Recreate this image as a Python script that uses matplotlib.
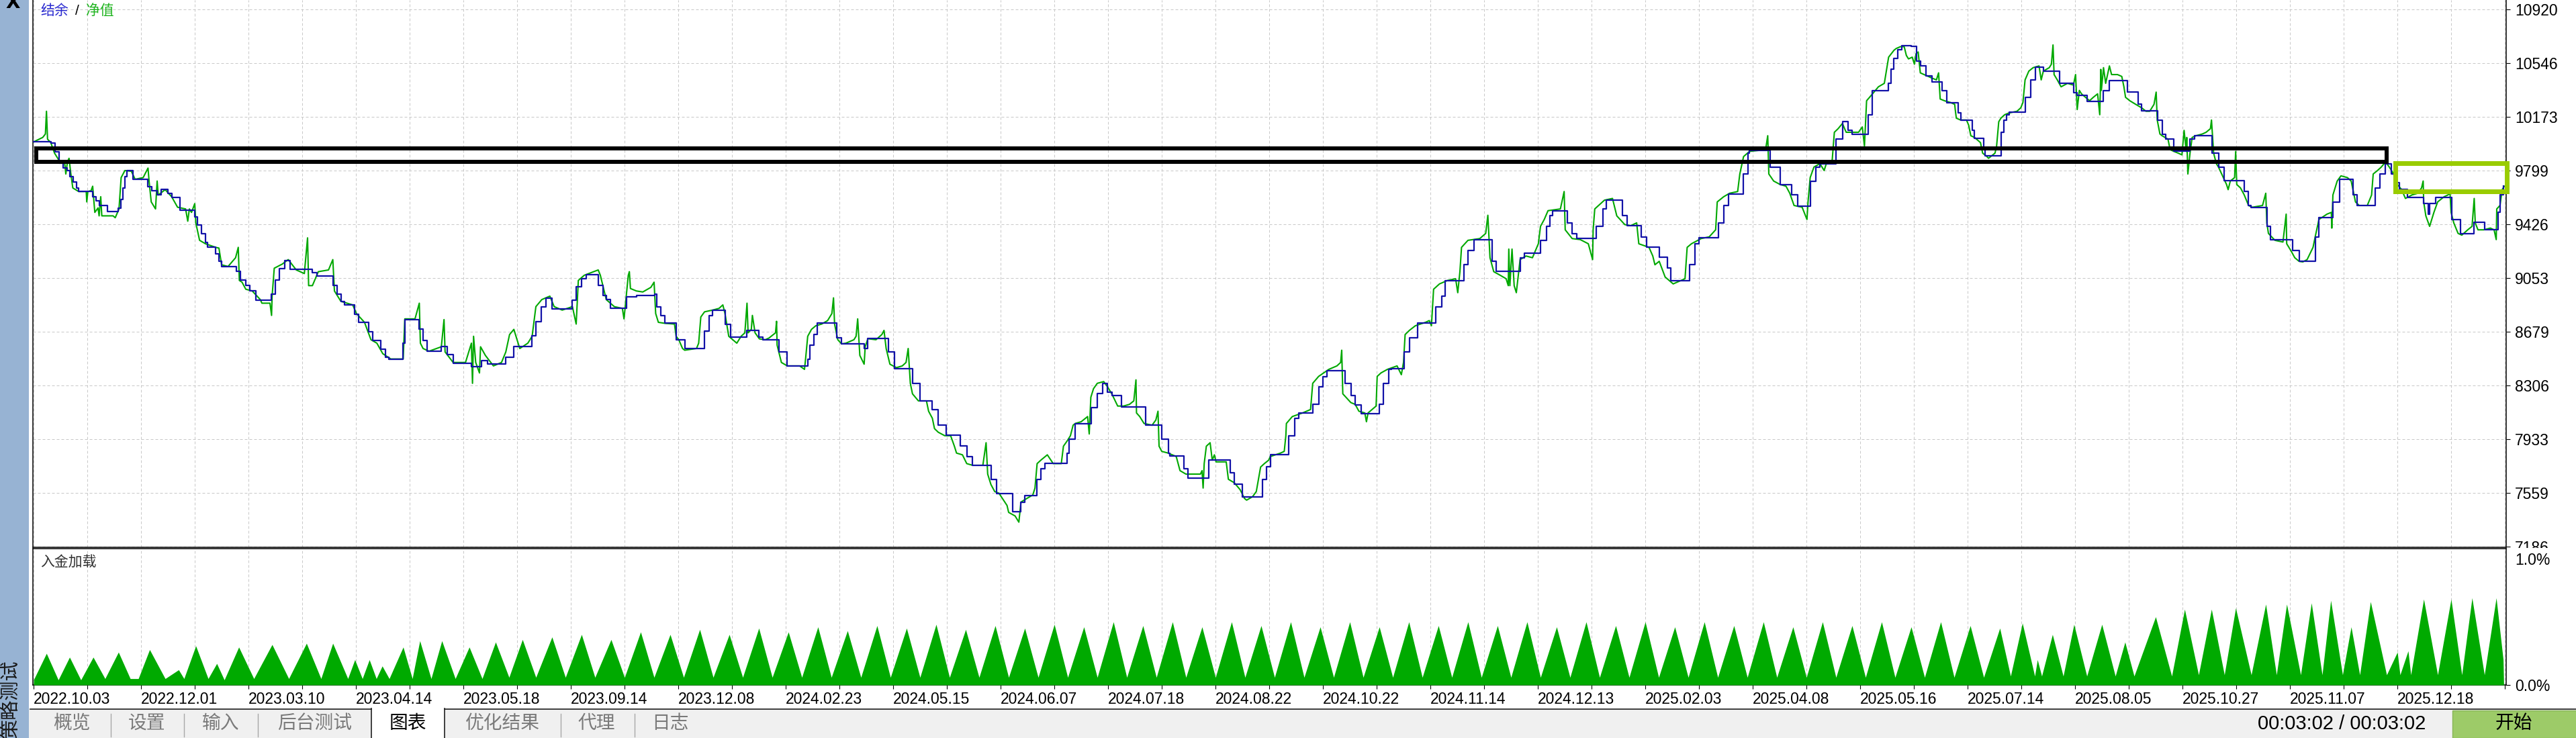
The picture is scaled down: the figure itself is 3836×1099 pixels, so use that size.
import matplotlib
matplotlib.use("Agg")
import matplotlib.pyplot as plt
from matplotlib.patches import Rectangle

plt.rcParams['font.family'] = ['Liberation Sans', 'Noto Sans CJK SC', 'DejaVu Sans']

W, H = 3837, 1099

# x runs in grid columns (one dashed column per unit), a date label every 2nd column
date_labels = ['2022.10.03', '2022.12.01', '2023.03.10', '2023.04.14', '2023.05.18',
               '2023.09.14', '2023.12.08', '2024.02.23', '2024.05.15', '2024.06.07',
               '2024.07.18', '2024.08.22', '2024.10.22', '2024.11.14', '2024.12.13',
               '2025.02.03', '2025.04.08', '2025.05.16', '2025.07.14', '2025.08.05',
               '2025.10.27', '2025.11.07', '2025.12.18']
y_levels = [10920, 10546, 10173, 9799, 9426, 9053, 8679, 8306, 7933, 7559, 7186]

# balance (step line)
balance = [
    (0.00, 9999), (0.32, 9990), (0.40, 9930), (0.47, 9850), (0.55, 9820), (0.62, 9800),
    (0.68, 9760), (0.74, 9720), (0.80, 9680), (0.84, 9654), (1.10, 9620), (1.16, 9590),
    (1.22, 9557), (1.37, 9514), (1.58, 9540), (1.62, 9600), (1.66, 9680), (1.70, 9760),
    (1.74, 9800), (1.85, 9739), (2.12, 9690), (2.20, 9660), (2.30, 9630), (2.38, 9671),
    (2.50, 9640), (2.57, 9611), (2.72, 9526), (3.00, 9480), (3.05, 9420), (3.12, 9360),
    (3.20, 9300), (3.24, 9266), (3.39, 9220), (3.45, 9170), (3.50, 9133), (3.77, 9100),
    (3.85, 9040), (3.95, 9000), (4.03, 8963), (4.14, 8898), (4.43, 8940), (4.50, 9040),
    (4.58, 9120), (4.67, 9174), (4.78, 9114), (5.19, 9090), (5.27, 9068), (5.57, 9000),
    (5.65, 8940), (5.72, 8890), (5.79, 8866), (5.98, 8800), (6.05, 8745), (6.24, 8680),
    (6.31, 8617), (6.46, 8560), (6.55, 8500), (6.61, 8486), (6.88, 8600), (6.91, 8764),
    (7.18, 8700), (7.25, 8620), (7.33, 8546), (7.59, 8575), (7.70, 8520), (7.81, 8461),
    (8.15, 8435), (8.34, 8478), (8.45, 8454), (8.79, 8500), (8.94, 8575), (9.28, 8650),
    (9.35, 8750), (9.45, 8850), (9.54, 8915), (9.65, 8837), (10.03, 8900), (10.10, 8990),
    (10.20, 9050), (10.29, 9077), (10.51, 9000), (10.60, 8930), (10.66, 8903), (10.74, 8842),
    (11.04, 8920), (11.22, 8932), (11.56, 8939), (11.60, 8854), (11.67, 8793), (11.75, 8738),
    (11.96, 8624), (12.12, 8563), (12.49, 8684), (12.57, 8793), (12.64, 8830), (12.87, 8733),
    (12.98, 8641), (13.28, 8689), (13.50, 8641), (13.58, 8624), (13.88, 8539), (14.03, 8442),
    (14.41, 8490), (14.45, 8587), (14.52, 8660), (14.59, 8738), (14.95, 8636), (15.04, 8595),
    (15.46, 8563), (15.53, 8631), (15.91, 8539), (16.02, 8425), (16.36, 8321), (16.50, 8199),
    (16.73, 8139), (16.84, 8030), (16.99, 7962), (17.25, 7884), (17.37, 7812), (17.48, 7751),
    (17.82, 7654), (17.93, 7557), (18.23, 7428), (18.38, 7496), (18.45, 7540), (18.68, 7654),
    (18.75, 7727), (18.83, 7763), (19.24, 7836), (19.28, 7932), (19.39, 8042), (19.69, 8151),
    (19.80, 8248), (19.90, 8321), (19.99, 8260), (20.07, 8236), (20.25, 8156), (20.70, 8030),
    (21.00, 7932), (21.12, 7836), (21.15, 7816), (21.41, 7727), (21.49, 7661), (21.87, 7787),
    (22.27, 7700), (22.35, 7618), (22.50, 7533), (22.88, 7652), (22.95, 7740), (23.02, 7824),
    (23.36, 7957), (23.47, 8078), (23.55, 8115), (23.81, 8175), (23.92, 8297), (24.00, 8369),
    (24.07, 8410), (24.41, 8321), (24.52, 8236), (24.60, 8170), (24.71, 8110), (25.05, 8175),
    (25.12, 8321), (25.23, 8418), (25.27, 8425), (25.51, 8539), (25.61, 8636), (25.76, 8738),
    (26.10, 8854), (26.21, 8927), (26.28, 9036), (26.62, 9145), (26.70, 9242), (26.81, 9320),
    (27.15, 9169), (27.22, 9101), (27.67, 9194), (27.75, 9225), (28.05, 9315), (28.16, 9412),
    (28.23, 9485), (28.27, 9521), (28.55, 9436), (28.64, 9363), (28.72, 9327), (29.09, 9412),
    (29.21, 9533), (29.28, 9594), (29.58, 9485), (29.66, 9417), (29.92, 9339), (30.03, 9266),
    (30.26, 9199), (30.41, 9121), (30.48, 9036), (30.82, 9145), (30.93, 9291), (31.00, 9332),
    (31.36, 9436), (31.46, 9557), (31.55, 9637), (31.83, 9776), (31.91, 9921), (31.94, 9940),
    (32.33, 9824), (32.51, 9703), (32.73, 9630), (32.84, 9553), (33.07, 9727), (33.18, 9824),
    (33.25, 9848), (33.55, 10018), (33.67, 10139), (33.78, 10079), (33.85, 10054), (34.15, 10188),
    (34.23, 10353), (34.52, 10406), (34.57, 10503), (34.63, 10580), (34.70, 10640), (34.78, 10668),
    (34.95, 10661), (35.05, 10560), (35.12, 10527), (35.23, 10459), (35.34, 10418), (35.53, 10357),
    (35.61, 10273), (35.83, 10200), (35.87, 10151), (36.09, 10080), (36.13, 10023), (36.30, 9960),
    (36.32, 9904), (36.62, 10067), (36.68, 10150), (36.73, 10188), (36.77, 10207), (37.07, 10309),
    (37.18, 10430), (37.26, 10520), (37.41, 10491), (37.71, 10406), (37.97, 10340), (38.04, 10321),
    (38.23, 10280), (38.53, 10357), (38.64, 10425), (38.98, 10345), (39.17, 10260), (39.24, 10217),
    (39.54, 10151), (39.62, 10054), (39.69, 10018), (39.84, 9933), (40.14, 10018), (40.22, 10042),
    (40.55, 9921), (40.67, 9824), (40.78, 9732), (41.15, 9654), (41.23, 9557), (41.27, 9543),
    (41.57, 9412), (41.64, 9320), (42.05, 9242), (42.17, 9169), (42.47, 9339), (42.54, 9472),
    (42.80, 9582), (42.92, 9739), (43.18, 9630), (43.25, 9557), (43.59, 9679), (43.67, 9776),
    (43.78, 9848), (43.89, 9776), (43.97, 9715), (44.04, 9667), (44.19, 9611), (44.49, 9570),
    (44.57, 9497), (44.60, 9570), (44.71, 9611), (45.01, 9460), (45.17, 9363), (45.43, 9441),
    (45.62, 9388), (45.88, 9509), (45.91, 9630), (45.97, 9691),
]

# equity
equity = [
    (0.00, 9999), (0.17, 10030), (0.22, 10054), (0.24, 10212), (0.26, 10018), (0.32, 9994),
    (0.39, 9921), (0.47, 9873), (0.58, 9848), (0.60, 9776), (0.63, 9860), (0.66, 9885),
    (0.69, 9788), (0.73, 9679), (0.84, 9654), (0.98, 9654), (0.99, 9582), (1.01, 9654),
    (1.07, 9660), (1.10, 9691), (1.14, 9509), (1.20, 9540), (1.22, 9485), (1.25, 9618),
    (1.27, 9485), (1.48, 9485), (1.52, 9472), (1.59, 9533), (1.63, 9751), (1.70, 9800),
    (1.82, 9795), (1.89, 9739), (2.04, 9751), (2.13, 9817), (2.15, 9727), (2.19, 9582),
    (2.27, 9533), (2.30, 9727), (2.32, 9630), (2.45, 9667), (2.57, 9618), (2.68, 9545),
    (2.83, 9533), (2.87, 9448), (2.90, 9533), (2.94, 9509), (3.00, 9570), (3.02, 9436),
    (3.09, 9315), (3.20, 9291), (3.39, 9266), (3.45, 9261), (3.50, 9145), (3.62, 9133),
    (3.76, 9194), (3.81, 9266), (3.83, 9036), (3.88, 9024), (3.95, 8975), (4.07, 8963),
    (4.22, 8903), (4.25, 8878), (4.40, 8878), (4.43, 8793), (4.44, 8927), (4.48, 9121),
    (4.63, 9150), (4.74, 9181), (4.89, 9109), (5.04, 9084), (5.10, 9332), (5.12, 9000),
    (5.19, 9000), (5.30, 9097), (5.49, 9109), (5.57, 9181), (5.60, 8963), (5.72, 8891),
    (5.94, 8866), (6.01, 8806), (6.16, 8745), (6.28, 8624), (6.39, 8600), (6.50, 8527),
    (6.65, 8490), (6.88, 8490), (6.91, 8769), (7.10, 8769), (7.18, 8878), (7.20, 8600),
    (7.25, 8563), (7.36, 8544), (7.59, 8575), (7.64, 8764), (7.66, 8539), (7.81, 8466),
    (8.04, 8466), (8.15, 8600), (8.17, 8321), (8.19, 8648), (8.23, 8466), (8.30, 8393),
    (8.32, 8575), (8.41, 8515), (8.56, 8442), (8.71, 8466), (8.79, 8539), (8.86, 8660),
    (8.94, 8696), (9.05, 8563), (9.20, 8600), (9.28, 8648), (9.35, 8854), (9.46, 8903),
    (9.61, 8927), (9.69, 8854), (9.84, 8830), (10.03, 8854), (10.10, 8733), (10.14, 9036),
    (10.25, 9072), (10.51, 9109), (10.55, 9072), (10.66, 8903), (10.81, 8854), (10.96, 8842),
    (10.99, 8769), (11.01, 8842), (11.07, 9072), (11.09, 9097), (11.11, 8980), (11.22, 8963),
    (11.34, 8956), (11.49, 8988), (11.55, 9024), (11.58, 8806), (11.63, 8745), (11.75, 8738),
    (11.93, 8733), (11.96, 8648), (12.01, 8624), (12.08, 8563), (12.12, 8551), (12.34, 8563),
    (12.38, 8600), (12.42, 8782), (12.49, 8818), (12.64, 8830), (12.76, 8842), (12.83, 8866),
    (12.87, 8806), (12.94, 8648), (13.09, 8600), (13.17, 8648), (13.24, 8672), (13.28, 8878),
    (13.30, 8672), (13.36, 8696), (13.38, 8793), (13.43, 8672), (13.51, 8630), (13.62, 8624),
    (13.69, 8636), (13.81, 8672), (13.83, 8752), (13.84, 8587), (13.92, 8466), (14.03, 8442),
    (14.26, 8442), (14.35, 8418), (14.37, 8490), (14.41, 8648), (14.48, 8696), (14.56, 8721),
    (14.67, 8733), (14.78, 8757), (14.86, 8806), (14.89, 8915), (14.91, 8733), (14.97, 8624),
    (15.04, 8595), (15.12, 8600), (15.27, 8624), (15.31, 8648), (15.34, 8769), (15.38, 8515),
    (15.46, 8454), (15.48, 8575), (15.53, 8631), (15.68, 8624), (15.79, 8660), (15.83, 8689),
    (15.87, 8563), (15.94, 8454), (16.06, 8430), (16.17, 8442), (16.24, 8466), (16.28, 8563),
    (16.30, 8442), (16.32, 8321), (16.36, 8248), (16.47, 8199), (16.62, 8199), (16.66, 8127),
    (16.73, 8078), (16.77, 8006), (16.84, 7981), (16.96, 7957), (17.07, 7957), (17.14, 7884),
    (17.18, 7836), (17.29, 7824), (17.37, 7763), (17.48, 7751), (17.67, 7751), (17.73, 7908),
    (17.76, 7690), (17.82, 7618), (17.89, 7569), (17.97, 7557), (18.12, 7472), (18.15, 7424),
    (18.27, 7399), (18.34, 7356), (18.38, 7496), (18.49, 7521), (18.60, 7545), (18.64, 7593),
    (18.68, 7763), (18.75, 7787), (18.87, 7824), (18.98, 7763), (19.13, 7763), (19.17, 7884),
    (19.24, 7921), (19.30, 7957), (19.35, 8030), (19.39, 8042), (19.50, 8054), (19.62, 8090),
    (19.65, 7969), (19.68, 8224), (19.73, 8284), (19.80, 8321), (19.92, 8333), (19.99, 8297),
    (20.07, 8248), (20.18, 8163), (20.29, 8163), (20.40, 8175), (20.48, 8199), (20.52, 8345),
    (20.53, 8115), (20.59, 8090), (20.67, 8042), (20.82, 8030), (20.89, 8066), (20.93, 8127),
    (20.95, 7884), (21.00, 7848), (21.12, 7836), (21.27, 7812), (21.34, 7714), (21.45, 7690),
    (21.72, 7690), (21.75, 7714), (21.77, 7593), (21.79, 7763), (21.83, 7884), (21.90, 7908),
    (21.94, 7787), (21.98, 7824), (22.01, 7775), (22.20, 7775), (22.24, 7654), (22.35, 7630),
    (22.46, 7581), (22.54, 7521), (22.58, 7509), (22.69, 7533), (22.76, 7569), (22.84, 7739),
    (22.91, 7763), (22.99, 7787), (23.02, 7812), (23.21, 7836), (23.28, 7848), (23.31, 7957),
    (23.32, 8042), (23.43, 8090), (23.62, 8115), (23.77, 8139), (23.81, 8321), (23.92, 8369),
    (24.11, 8418), (24.26, 8442), (24.33, 8466), (24.35, 8551), (24.37, 8248), (24.52, 8187),
    (24.60, 8175), (24.67, 8127), (24.78, 8115), (24.81, 8054), (24.84, 8115), (24.99, 8163),
    (25.01, 8369), (25.08, 8393), (25.20, 8418), (25.38, 8442), (25.46, 8381), (25.50, 8466),
    (25.53, 8660), (25.61, 8689), (25.72, 8721), (25.91, 8745), (25.98, 8757), (26.02, 8721),
    (26.06, 8975), (26.17, 9012), (26.32, 9036), (26.47, 9048), (26.51, 8951), (26.55, 9097),
    (26.58, 9266), (26.70, 9315), (26.92, 9327), (27.03, 9363), (27.07, 9489), (27.11, 9194),
    (27.18, 9097), (27.30, 9072), (27.41, 9048), (27.45, 9000), (27.46, 9254), (27.48, 9000),
    (27.52, 9254), (27.56, 9000), (27.60, 8951), (27.67, 9181), (27.78, 9206), (27.90, 9194),
    (28.01, 9291), (28.05, 9412), (28.12, 9460), (28.19, 9521), (28.42, 9533), (28.49, 9654),
    (28.51, 9388), (28.64, 9327), (28.79, 9320), (28.94, 9291), (29.02, 9181), (29.03, 9388),
    (29.06, 9533), (29.24, 9594), (29.39, 9606), (29.47, 9485), (29.62, 9424), (29.73, 9417),
    (29.84, 9436), (29.88, 9291), (30.07, 9266), (30.14, 9206), (30.18, 9145), (30.26, 9169),
    (30.37, 9060), (30.52, 9012), (30.74, 9048), (30.78, 9266), (30.86, 9291), (31.04, 9327),
    (31.19, 9339), (31.31, 9388), (31.34, 9582), (31.46, 9618), (31.57, 9642), (31.72, 9654),
    (31.76, 9776), (31.83, 9897), (31.94, 9933), (32.24, 9945), (32.28, 10042), (32.30, 9776),
    (32.39, 9727), (32.51, 9703), (32.62, 9691), (32.69, 9642), (32.77, 9557), (32.92, 9545),
    (33.01, 9460), (33.03, 9582), (33.07, 9751), (33.14, 9824), (33.25, 9848), (33.33, 9800),
    (33.37, 9848), (33.48, 9873), (33.52, 10066), (33.59, 10091), (33.67, 10127), (33.74, 10066),
    (33.97, 10066), (34.04, 10103), (34.08, 9970), (34.12, 10285), (34.23, 10333), (34.34, 10382),
    (34.45, 10406), (34.53, 10588), (34.63, 10636), (34.67, 10648), (34.75, 10661), (34.82, 10661),
    (34.86, 10600), (34.90, 10576), (34.97, 10588), (35.01, 10539), (35.04, 10612), (35.08, 10624),
    (35.12, 10479), (35.19, 10467), (35.27, 10454), (35.34, 10442), (35.42, 10430), (35.46, 10479),
    (35.48, 10357), (35.49, 10297), (35.57, 10285), (35.68, 10273), (35.76, 10260), (35.77, 10224),
    (35.79, 10164), (35.87, 10151), (35.98, 10151), (36.02, 10115), (36.06, 10042), (36.13, 10030),
    (36.24, 9994), (36.28, 9921), (36.36, 9897), (36.39, 9885), (36.51, 9921), (36.54, 9970),
    (36.58, 10139), (36.62, 10164), (36.69, 10188), (36.77, 10200), (36.92, 10212), (36.99, 10236),
    (37.03, 10273), (37.07, 10430), (37.14, 10491), (37.22, 10515), (37.33, 10527), (37.37, 10430),
    (37.41, 10491), (37.52, 10515), (37.56, 10539), (37.59, 10673), (37.61, 10467), (37.67, 10430),
    (37.74, 10382), (37.86, 10406), (37.97, 10394), (38.01, 10467), (38.04, 10224), (38.08, 10357),
    (38.12, 10333), (38.27, 10285), (38.34, 10309), (38.42, 10333), (38.46, 10188), (38.48, 10503),
    (38.49, 10357), (38.53, 10515), (38.57, 10406), (38.64, 10527), (38.68, 10467), (38.79, 10467),
    (38.87, 10454), (38.91, 10382), (38.94, 10309), (39.02, 10285), (39.13, 10260), (39.24, 10236),
    (39.32, 10212), (39.39, 10212), (39.47, 10260), (39.51, 10345), (39.53, 10151), (39.58, 10054),
    (39.62, 10042), (39.73, 10018), (39.77, 9945), (39.84, 9933), (39.92, 9921), (39.99, 9909),
    (40.03, 10079), (40.07, 9933), (40.08, 10030), (40.10, 9776), (40.14, 9921), (40.18, 10030),
    (40.25, 10042), (40.37, 10054), (40.44, 10066), (40.52, 10091), (40.54, 10151), (40.58, 9921),
    (40.63, 9848), (40.67, 9824), (40.82, 9703), (40.85, 9667), (40.89, 9727), (40.97, 9751),
    (40.99, 9933), (41.01, 9703), (41.08, 9679), (41.15, 9630), (41.23, 9557), (41.30, 9545),
    (41.49, 9557), (41.55, 9642), (41.57, 9436), (41.60, 9363), (41.72, 9315), (41.87, 9303),
    (41.93, 9497), (41.94, 9291), (42.02, 9242), (42.09, 9194), (42.17, 9169), (42.24, 9165),
    (42.32, 9181), (42.43, 9266), (42.47, 9339), (42.54, 9460), (42.69, 9497), (42.77, 9509),
    (42.78, 9400), (42.80, 9630), (42.88, 9727), (42.95, 9763), (43.07, 9751), (43.14, 9727),
    (43.22, 9582), (43.29, 9557), (43.44, 9557), (43.52, 9630), (43.55, 9776), (43.63, 9800),
    (43.70, 9824), (43.78, 9860), (43.85, 9824), (43.93, 9776), (44.00, 9703), (44.08, 9667),
    (44.15, 9606), (44.27, 9630), (44.38, 9642), (44.45, 9679), (44.48, 9727), (44.49, 9582),
    (44.53, 9485), (44.60, 9412), (44.68, 9509), (44.75, 9582), (44.87, 9618), (44.94, 9630),
    (44.98, 9642), (45.00, 9509), (45.05, 9436), (45.13, 9363), (45.20, 9351), (45.31, 9388),
    (45.39, 9412), (45.43, 9606), (45.45, 9436), (45.50, 9388), (45.61, 9388), (45.73, 9400),
    (45.80, 9388), (45.84, 9320), (45.85, 9533), (45.91, 9557), (45.95, 9667), (45.99, 9691),
]

# deposit load, percent (outline of the green area)
load = [
    (0.00, 0.04), (0.24, 0.25), (0.46, 0.04), (0.67, 0.22), (0.88, 0.04), (1.11, 0.22),
    (1.33, 0.05), (1.58, 0.26), (1.80, 0.05), (1.95, 0.05), (2.16, 0.28), (2.45, 0.05),
    (2.70, 0.12), (2.80, 0.05), (3.02, 0.31), (3.25, 0.05), (3.41, 0.17), (3.55, 0.04),
    (3.82, 0.30), (4.10, 0.05), (4.44, 0.32), (4.75, 0.05), (5.08, 0.33), (5.35, 0.05),
    (5.57, 0.33), (5.85, 0.05), (5.98, 0.20), (6.12, 0.05), (6.25, 0.20), (6.38, 0.05),
    (6.49, 0.15), (6.62, 0.05), (6.88, 0.30), (7.05, 0.05), (7.19, 0.35), (7.40, 0.05),
    (7.60, 0.35), (7.85, 0.05), (8.11, 0.30), (8.35, 0.05), (8.6, 0.34), (8.85, 0.06),
    (9.1, 0.36), (9.35, 0.06), (9.65, 0.38), (9.9, 0.06), (10.2, 0.40), (10.45, 0.06),
    (10.75, 0.36), (11.0, 0.06), (11.3, 0.42), (11.55, 0.06), (11.85, 0.40), (12.1, 0.06),
    (12.4, 0.44), (12.65, 0.06), (12.95, 0.40), (13.2, 0.06), (13.5, 0.45), (13.75, 0.06),
    (14.05, 0.42), (14.3, 0.06), (14.6, 0.46), (14.85, 0.06), (15.15, 0.43), (15.4, 0.06),
    (15.7, 0.47), (15.95, 0.06), (16.25, 0.45), (16.5, 0.06), (16.8, 0.48), (17.05, 0.06),
    (17.35, 0.44), (17.6, 0.06), (17.9, 0.47), (18.15, 0.06), (18.45, 0.45), (18.7, 0.06),
    (19.0, 0.48), (19.25, 0.06), (19.55, 0.46), (19.8, 0.06), (20.1, 0.50), (20.35, 0.06),
    (20.65, 0.47), (20.9, 0.06), (21.2, 0.50), (21.45, 0.06), (21.75, 0.46), (22.0, 0.06),
    (22.3, 0.50), (22.55, 0.06), (22.85, 0.47), (23.1, 0.06), (23.4, 0.50), (23.65, 0.06),
    (23.95, 0.46), (24.2, 0.06), (24.5, 0.50), (24.75, 0.06), (25.05, 0.46), (25.3, 0.06),
    (25.6, 0.50), (25.85, 0.06), (26.15, 0.47), (26.4, 0.06), (26.7, 0.50), (26.95, 0.06),
    (27.25, 0.47), (27.5, 0.06), (27.8, 0.50), (28.05, 0.06), (28.35, 0.46), (28.6, 0.06),
    (28.9, 0.50), (29.15, 0.06), (29.45, 0.47), (29.7, 0.06), (30.0, 0.50), (30.25, 0.06),
    (30.55, 0.46), (30.8, 0.06), (31.1, 0.50), (31.35, 0.06), (31.65, 0.47), (31.9, 0.06),
    (32.2, 0.50), (32.45, 0.06), (32.75, 0.46), (33.0, 0.06), (33.3, 0.50), (33.55, 0.06),
    (33.85, 0.47), (34.1, 0.06), (34.4, 0.50), (34.65, 0.06), (34.95, 0.46), (35.2, 0.06),
    (35.5, 0.50), (35.75, 0.06), (36.05, 0.47), (36.3, 0.06), (36.6, 0.45), (36.8, 0.07),
    (37.02, 0.49), (37.25, 0.07), (37.30, 0.20), (37.38, 0.07), (37.58, 0.40), (37.78, 0.07),
    (37.98, 0.48), (38.22, 0.07), (38.50, 0.48), (38.75, 0.07), (38.93, 0.34), (39.10, 0.07),
    (39.50, 0.54), (39.80, 0.07), (40.04, 0.60), (40.30, 0.08), (40.54, 0.60), (40.78, 0.08),
    (40.99, 0.61), (41.28, 0.08), (41.55, 0.64), (41.75, 0.08), (41.94, 0.64), (42.20, 0.08),
    (42.40, 0.65), (42.60, 0.08), (42.76, 0.67), (42.98, 0.08), (43.14, 0.46), (43.30, 0.08),
    (43.50, 0.66), (43.80, 0.08), (44.00, 0.26), (44.05, 0.08), (44.20, 0.27), (44.25, 0.08),
    (44.49, 0.68), (44.75, 0.08), (45.00, 0.68), (45.20, 0.08), (45.39, 0.69), (45.62, 0.08),
    (45.84, 0.69), (45.97, 0.20), (45.98, 0.00),
]

tabs = ['概览', '设置', '输入', '后台测试', '图表', '优化结果', '代理', '日志']
tab_x = [107, 219, 329, 469, 607, 748, 888, 998]
tab_sep_x = [165, 274, 384, 835, 945]


def px_rect(x0, y0, x1, y1):
    return [x0 / W, 1 - y1 / H, (x1 - x0) / W, (y1 - y0) / H]


fig = plt.figure(figsize=(W / 100, H / 100), dpi=100)
grid_kw = dict(color='#c8c8c8', linestyle=(0, (4, 3)), linewidth=0.72)
tick_fs = 16.5

# balance / equity panel
ax = fig.add_axes(px_rect(49, 0, 3732, 815))
ax.plot([p[0] for p in equity], [p[1] for p in equity], color='#00a800', lw=1.5, zorder=3)
ax.step([p[0] for p in balance], [p[1] for p in balance], where='post',
        color='#1212a8', lw=1.6, zorder=4)
ax.set_xlim(-0.0125, 46.025)
ax.set_ylim(7181.3, 10985.3)
ax.set_xticks(range(47))
ax.set_yticks(y_levels)
ax.set_yticklabels([str(v) for v in y_levels])
ax.yaxis.tick_right()
ax.tick_params(axis='x', length=0, labelbottom=False)
ax.tick_params(axis='y', direction='out', length=4.3, width=0.8, pad=5, labelsize=tick_fs)
ax.grid(**grid_kw)
ax.set_axisbelow(True)
ax.spines['top'].set_visible(False)
for s in ['left', 'right', 'bottom']:
    ax.spines[s].set_linewidth(1.1)

# deposit load panel
axb = fig.add_axes(px_rect(49, 817, 3732, 1020))
axb.fill_between([p[0] for p in load], [p[1] for p in load], 0, color='#00aa00', lw=0, zorder=3)
axb.set_xlim(-0.0125, 46.025)
axb.set_ylim(0, 1.08)
axb.set_xticks(range(47))
axb.set_xticklabels([date_labels[i // 2] if i % 2 == 0 and i // 2 < len(date_labels) else ''
                     for i in range(47)])
for lbl in axb.get_xticklabels():
    lbl.set_horizontalalignment('left')
axb.tick_params(axis='x', direction='out', length=4.3, width=0.8, pad=3, labelsize=tick_fs)
axb.yaxis.tick_right()
axb.set_yticks([0, 1.0])
axb.set_yticklabels(['0.0%', '1.0%'])
axb.tick_params(axis='y', direction='out', length=4.3, width=0.8, pad=5, labelsize=tick_fs)
axb.yaxis.get_major_ticks()[1].tick2line.set_visible(False)
axb.grid(axis='x', **grid_kw)
axb.set_axisbelow(True)
for s in axb.spines.values():
    s.set_linewidth(1.1)

# window chrome, drawn in pixel units
ui = fig.add_axes([0, 0, 1, 1], zorder=10)
ui.set_xlim(0, W)
ui.set_ylim(H, 0)
ui.axis('off')
ui.patch.set_alpha(0)

ui.add_patch(Rectangle((0, 0), 43, H, fc='#97b3d3', ec='none'))
ui.text(19, 4, 'X', ha='center', va='center', fontsize=20, fontweight='bold', family='DejaVu Sans')
ui.text(16, 1042, '策略测试', rotation=90, ha='center', va='center', fontsize=21, color='#1a1a1a')

ui.text(60, 16, '结余', color='#2a2ad0', fontsize=15, va='center')
ui.text(112, 16, '/', color='black', fontsize=15, va='center')
ui.text(128, 16, '净值', color='#1db31d', fontsize=15, va='center')
ui.text(60, 838, '入金加载', color='#303030', fontsize=15, va='center')

# hide the lower half of the clipped 7186 label
ui.add_patch(Rectangle((3737, 816), 100, 7, fc='white', ec='none'))

# highlight boxes
ui.add_patch(Rectangle((54, 221), 3500, 20, fill=False, ec='black', lw=6 * 0.72))
ui.add_patch(Rectangle((3567, 242.5), 166, 42, fill=False, ec='#99cc00', lw=7 * 0.72))

# tab bar
ui.add_patch(Rectangle((43, 1055), W - 43, 44, fc='#f0f0f0', ec='none'))
ui.plot([45, 553], [1055.5, 1055.5], color='#202020', lw=1.2)
ui.plot([662, W], [1055.5, 1055.5], color='#202020', lw=1.2)
ui.add_patch(Rectangle((553, 1055), 109, 44, fc='white', ec='none'))
ui.plot([553, 553], [1055, H], color='#202020', lw=1.2)
ui.plot([662, 662], [1055, H], color='#202020', lw=1.2)
for sx in tab_sep_x:
    ui.plot([sx, sx], [1063, 1097], color='#a8a8a8', lw=1)
for name, tx in zip(tabs, tab_x):
    ui.text(tx, 1078, name, ha='center', va='center', fontsize=20,
            color='black' if name == '图表' else '#7a7a7a')

ui.text(3612, 1078, '00:03:02 / 00:03:02', ha='right', va='center', fontsize=21)
ui.add_patch(Rectangle((3652, 1058), 185, 41, fc='#9dcb68', ec='#86b455', lw=1))
ui.text(3743, 1078, '开始', ha='center', va='center', fontsize=20)

fig.savefig('out.png', dpi=100)
